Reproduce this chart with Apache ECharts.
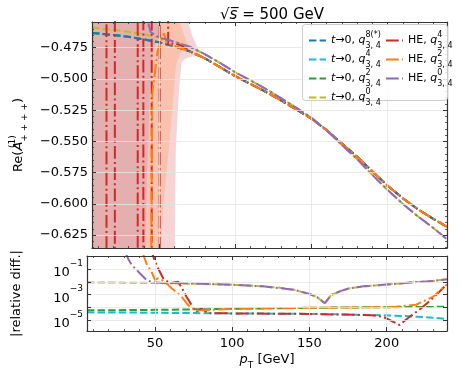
<!DOCTYPE html>
<html>
<head>
<meta charset="utf-8">
<script src="https://cdn.jsdelivr.net/npm/echarts@6/dist/echarts.min.js"></script>
<style>
  html, body { margin: 0; padding: 0; background: #fff; }
  #chart { width: 471px; height: 377px; }
</style>
</head>
<body>
<div id="chart"></div>
<script>
// ---- data ----
const ptGrid = [6, 10, 20, 30, 40, 50, 60, 70, 80, 90, 100, 110, 120, 130, 140, 150, 160, 170, 180, 190, 200, 210, 220, 230, 239];

// Re(A) for the t->0 expansions
const ampQ8 = [-0.4632, -0.4636, -0.4648, -0.4663, -0.4683, -0.4707, -0.4738, -0.4778, -0.4835, -0.4905, -0.4978, -0.5040, -0.5103, -0.5172, -0.5244, -0.5318, -0.5410, -0.5517, -0.5623, -0.5740, -0.5855, -0.5955, -0.6045, -0.6120, -0.6184];
const ampQ4 = [-0.4632, -0.4636, -0.4648, -0.4663, -0.4683, -0.4707, -0.4738, -0.4778, -0.4835, -0.4905, -0.4978, -0.5040, -0.5103, -0.5172, -0.5244, -0.5318, -0.5410, -0.5517, -0.5623, -0.5740, -0.5855, -0.5955, -0.6045, -0.6120, -0.6184];
const ampQ2 = [-0.4632, -0.4636, -0.4648, -0.4663, -0.4683, -0.4707, -0.4738, -0.4778, -0.4835, -0.4905, -0.4978, -0.5040, -0.5103, -0.5172, -0.5244, -0.5318, -0.5410, -0.5517, -0.5623, -0.5740, -0.5855, -0.5955, -0.6045, -0.6120, -0.6184];
const ampQ0 = [-0.4589, -0.4594, -0.4606, -0.4623, -0.4642, -0.4668, -0.4701, -0.4742, -0.4801, -0.4872, -0.4947, -0.5012, -0.5079, -0.5153, -0.5230, -0.5311, -0.5410, -0.5529, -0.5643, -0.5768, -0.5890, -0.6000, -0.6102, -0.6193, -0.6284];

// Re(A) for the high-energy expansions (blow up at small pT)
const heQ4X = [6, 15.5, 15.5, 21, 21, 36, 36, 39.7, 39.7, 45.2, 45.2, 50.4, 50.4, 55.5, 56, 60, 65, 70, 80, 90, 100, 110, 120, 130, 140, 150, 160, 170, 180, 190, 200, 210, 220, 230, 239];
const heQ4Amp = [0.5, 0.5, -1.5, -1.5, 0.5, 0.5, -1.5, -1.5, 0.5, 0.5, -1.5, -1.5, 0.5, 0.5, -0.4725, -0.4712, -0.4735, -0.4778, -0.4835, -0.4905, -0.4978, -0.5040, -0.5103, -0.5172, -0.5244, -0.5318, -0.5410, -0.5517, -0.5623, -0.5740, -0.5855, -0.5955, -0.6045, -0.6120, -0.6184];
const heQ2X = [40, 45.6, 49, 53.2, 55, 58, 62, 70, 80, 90, 100, 110, 120, 130, 140, 150, 160, 170, 180, 190, 200, 210, 220, 230, 239];
const heQ2Amp = [-1.5, -0.5115, -0.4780, -0.4635, -0.4715, -0.4725, -0.4745, -0.4778, -0.4835, -0.4905, -0.4978, -0.5040, -0.5103, -0.5172, -0.5244, -0.5318, -0.5410, -0.5517, -0.5623, -0.5740, -0.5855, -0.5955, -0.6045, -0.6120, -0.6184];
const heQ0X = [30, 35, 39, 44.5, 50, 60, 70, 80, 90, 100, 110, 120, 130, 140, 150, 160, 170, 180, 190, 200, 210, 220, 230, 239];
const heQ0Amp = [-0.10, -0.365, -0.4376, -0.4625, -0.4668, -0.4701, -0.4742, -0.4801, -0.4872, -0.4947, -0.5012, -0.5079, -0.5153, -0.5230, -0.5311, -0.5410, -0.5529, -0.5643, -0.5768, -0.5890, -0.6000, -0.6102, -0.6193, -0.6284];

// uncertainty bands of the HE expansions (x, lower, upper)
const bandQ4X = [6, 59.5, 60.3, 61, 63, 64.8, 67, 69, 72, 75, 78];
const bandQ4Lo = [-1.5, -1.5, -0.64, -0.557, -0.51, -0.487, -0.484, -0.483, -0.482, -0.4815, -0.4825];
const bandQ4Hi = [0.5, 0.5, 0.5, 0.5, 0.5, 0.5, 0.5, -0.454, -0.466, -0.474, -0.4825];
const bandQ2X = [6, 50, 51, 53, 56.4, 59, 61, 63, 63.5, 65, 68, 70, 72];
const bandQ2Lo = [-1.5, -1.5, -0.64, -0.60, -0.557, -0.52, -0.49, -0.482, -0.480, -0.478, -0.4775, -0.4778, -0.4790];
const bandQ2Hi = [0.5, 0.5, 0.5, 0.5, 0.5, 0.5, 0.5, 0.5, -0.454, -0.460, -0.470, -0.4755, -0.4790];
const bandQ0X = [6, 40, 41, 42, 44, 45.5, 47, 48, 50, 52];
const bandQ0Lo = [-1.5, -1.5, -0.64, -0.58, -0.51, -0.485, -0.474, -0.4705, -0.4675, -0.4672];
const bandQ0Hi = [0.5, 0.5, 0.5, 0.5, 0.5, 0.5, 0.3, -0.45, -0.463, -0.4672];

// |relative difference| w.r.t. the q^8 expansion
const relQ4 = [4.0e-5, 3.98e-5, 3.95e-5, 3.9e-5, 3.8e-5, 3.7e-5, 3.6e-5, 3.5e-5, 3.45e-5, 3.4e-5, 3.3e-5, 3.25e-5, 3.2e-5, 3.1e-5, 3.05e-5, 3.0e-5, 2.9e-5, 2.75e-5, 2.6e-5, 2.45e-5, 2.3e-5, 2.1e-5, 1.8e-5, 1.5e-5, 1.2e-5];
const relQ2 = [5.8e-5, 5.85e-5, 5.9e-5, 6.0e-5, 6.1e-5, 6.3e-5, 6.5e-5, 6.8e-5, 7.0e-5, 7.3e-5, 7.6e-5, 7.9e-5, 8.2e-5, 8.5e-5, 8.8e-5, 9.1e-5, 9.4e-5, 9.6e-5, 9.8e-5, 1.0e-4, 1.02e-4, 1.04e-4, 1.06e-4, 1.08e-4, 1.1e-4];
const relQ0X = [6, 20, 40, 60, 80, 100, 110, 120, 130, 140, 150, 155, 160, 164, 170, 176, 185, 200, 215, 230, 239];
const relQ0 = [9.3e-3, 9.1e-3, 8.7e-3, 7.9e-3, 7.1e-3, 6.0e-3, 5.2e-3, 4.5e-3, 3.6e-3, 2.4e-3, 1.12e-3, 6.3e-4, 2.1e-4, 9.3e-4, 1.9e-3, 3.2e-3, 4.5e-3, 6.3e-3, 8.9e-3, 1.2e-2, 1.62e-2];
const relHeQ4X = [47, 48.9, 52, 55.3, 59.6, 65, 67.5, 70.4, 73.7, 76.9, 80.1, 84, 100, 150, 190, 197.6, 208.3, 214.8, 221, 229.7, 238.5];
const relHeQ4 = [5, 1.0, 0.12, 1.95e-2, 7.9e-3, 1.05e-2, 3.2e-3, 6.9e-4, 1.5e-4, 4.5e-5, 8.3e-5, 3.5e-5, 3.3e-5, 3.0e-5, 2.4e-5, 1.8e-5, 4.0e-6, 1.8e-5, 6.3e-5, 5.1e-4, 5.8e-3];
const relHeQ2X = [42, 45, 47.8, 50, 52, 56.4, 60.8, 67.2, 71.5, 73.7, 76, 80, 100, 150, 200, 206, 219, 230, 239];
const relHeQ2 = [2, 0.2, 6.5e-2, 1.45e-2, 1.95e-2, 1.05e-2, 3.2e-3, 6.9e-4, 1.5e-4, 8.3e-5, 5.6e-5, 5.8e-5, 7.6e-5, 9.1e-5, 1.02e-4, 1.1e-4, 1.6e-4, 6.9e-4, 6.6e-3];
const relHeQ0X = [31, 32.7, 35, 39.2, 44.5, 47.7, 55, 60, 65, 80, 100, 120, 140, 150, 155, 160, 164, 170, 176, 185, 200, 215, 230, 239];
const relHeQ0 = [2, 0.65, 0.22, 6.5e-2, 1.45e-2, 1.0e-2, 8.2e-3, 8.0e-3, 8.6e-3, 7.1e-3, 6.0e-3, 4.5e-3, 2.4e-3, 1.12e-3, 6.3e-4, 2.1e-4, 9.3e-4, 1.9e-3, 3.2e-3, 4.5e-3, 6.3e-3, 8.9e-3, 1.2e-2, 1.62e-2];

const topTicks = [-0.625, -0.6, -0.575, -0.55, -0.525, -0.5, -0.475];
const relTicks = [1e-6, 1e-5, 1e-4, 1e-3, 1e-2, 1e-1, 1];
const relLabels = [1e-5, 1e-3, 1e-1];

// ---- style ----
const C = {
  blue: "#1f77b4", orange: "#ff7f0e", green: "#2ca02c", red: "#d62728",
  purple: "#9467bd", olive: "#bcbd22", cyan: "#17becf",
};
const dashed = [7.4, 3.2];
const dashDot = [12.8, 3.2, 2, 3.2];
const font = "DejaVu Sans";
const frame = "#333";
const gridLine = { show: true, lineStyle: { color: "#e4e4e4", width: 0.8 } };

const xMin = 6, xMax = 239;
const yMin = -0.6354, yMax = -0.4544;
const rMin = Math.pow(10, -5.87), rMax = Math.pow(10, 0.05);

const pairs = (xs, ys) => xs.map((x, i) => [x, ys[i]]);

const mathRich = (size) => ({
  n: { fontFamily: font, fontSize: size, color: "#000", lineHeight: size + 8, verticalAlign: "middle" },
  it: { fontFamily: font, fontSize: size, fontStyle: "italic", color: "#000", lineHeight: size + 8, verticalAlign: "middle" },
  sup: { fontFamily: font, fontSize: Math.round(size * 0.7), color: "#000", lineHeight: size + 8, verticalAlign: "top", width: 0.01 },
  sub: { fontFamily: font, fontSize: Math.round(size * 0.7), color: "#000", lineHeight: size + 8, verticalAlign: "bottom" },
});

const legendNames = {
  t8: "{it|t}{n|→0, }{it|q}{sup|8(*)}{sub|3, 4}",
  t4: "{it|t}{n|→0, }{it|q}{sup|4}{sub|3, 4}",
  t2: "{it|t}{n|→0, }{it|q}{sup|2}{sub|3, 4}",
  t0: "{it|t}{n|→0, }{it|q}{sup|0}{sub|3, 4}",
  h4: "{n|HE, }{it|q}{sup|4}{sub|3, 4}",
  h2: "{n|HE, }{it|q}{sup|2}{sub|3, 4}",
  h0: "{n|HE, }{it|q}{sup|0}{sub|3, 4}",
};

const lineSeries = (name, data, color, dash, xi, yi) => ({
  name, type: "line", data, xAxisIndex: xi, yAxisIndex: yi,
  showSymbol: false, symbol: "none", clip: true, z: 2,
  lineStyle: { color, width: 2, type: dash },
  itemStyle: { color },
  emphasis: { disabled: true }, silent: true, animation: false,
});

const bandSeries = (xs, lo, hi, color) => ({
  type: "custom", xAxisIndex: 0, yAxisIndex: 0, clip: true, z: 1, silent: true,
  data: [0],
  renderItem: (params, api) => {
    const pts = [];
    xs.forEach((x, i) => pts.push(api.coord([x, hi[i]])));
    for (let i = xs.length - 1; i >= 0; i--) pts.push(api.coord([xs[i], lo[i]]));
    return { type: "polygon", shape: { points: pts }, style: { fill: color, stroke: null } };
  },
});

const relFmt = (v) => {
  const e = Math.round(Math.log10(v));
  return "{b|10}{s|" + (e < 0 ? "−" + (-e) : e) + "}";
};

const legendBase = {
  orient: "vertical", top: 26, itemWidth: 17, itemHeight: 4, itemGap: 0, z: 20,
  selectedMode: false,
  itemStyle: { color: "rgba(0,0,0,0)", borderColor: "rgba(0,0,0,0)", borderWidth: 0 },
  formatter: (n) => legendNames[n], textStyle: { rich: mathRich(11) },
};

const option = {
  animation: false,
  backgroundColor: "#fff",
  title: {
    text: "{r|√}{s|s̅}{n| = 500 GeV}",
    left: 267, top: 3, textAlign: "center",
    textStyle: {
      fontWeight: "normal",
      rich: {
        r: { fontFamily: font, fontSize: 15, fontWeight: "normal", color: "#000" },
        s: { fontFamily: font, fontSize: 15, fontWeight: "normal", fontStyle: "italic", color: "#000" },
        n: { fontFamily: font, fontSize: 15, fontWeight: "normal", color: "#000" },
      },
    },
  },
  grid: [
    { left: 87, top: 22, width: 360, height: 226 },
    { left: 87, top: 256, width: 360, height: 75 },
  ],
  xAxis: [0, 1].flatMap((g) => ["bottom", "top"].map((pos) => ({
    gridIndex: g, type: "value", position: pos, min: xMin, max: xMax, splitNumber: 5, z: 3,
    axisLine: { show: true, onZero: false, lineStyle: { color: frame, width: 1.2 } },
    axisTick: { show: true, inside: true, length: 4, lineStyle: { color: frame, width: 1 } },
    minorTick: { show: true, splitNumber: 5, length: 2, lineStyle: { color: frame, width: 0.8 } },
    splitLine: pos === "bottom" ? gridLine : { show: false },
    axisLabel: (g === 1 && pos === "bottom")
      ? { show: true, showMinLabel: false, showMaxLabel: false, margin: 6, fontFamily: font, fontSize: 13, color: "#000" }
      : { show: false },
    name: (g === 1 && pos === "bottom") ? "{it|p}{sub|T}{n| [GeV]}" : "",
    nameLocation: "middle", nameGap: 18,
    nameTextStyle: { rich: mathRich(13) },
  }))),
  yAxis: [
    {
      gridIndex: 0, type: "value", position: "left", min: yMin, max: yMax, z: 3,
      axisLine: { show: true, onZero: false, lineStyle: { color: frame, width: 1.2 } },
      axisTick: { show: true, inside: true, length: 4, customValues: topTicks, lineStyle: { color: frame } },
      axisLabel: { customValues: topTicks, margin: 4, fontFamily: font, fontSize: 13, color: "#000",
        formatter: (v) => v.toFixed(3).replace("-", "−") },
      splitLine: gridLine,
      name: "{n|Re(}{it|A}{sup|(1)}{sub|+ + + +}{n|)}",
      nameLocation: "middle", nameRotate: 90, nameGap: 62,
      nameTextStyle: { rich: mathRich(13) },
    },
    {
      gridIndex: 0, type: "value", position: "left", min: yMin, max: yMax, splitNumber: 36, z: 3,
      axisLine: { show: false }, axisLabel: { show: false }, splitLine: { show: false },
      axisTick: { show: true, inside: true, length: 2, lineStyle: { color: frame, width: 0.8 } },
    },
    {
      gridIndex: 0, type: "value", position: "right", min: yMin, max: yMax, z: 3,
      axisLine: { show: true, onZero: false, lineStyle: { color: frame, width: 1.2 } },
      axisTick: { show: true, inside: true, length: 4, customValues: topTicks, lineStyle: { color: frame } },
      axisLabel: { show: false }, splitLine: { show: false },
    },
    {
      gridIndex: 0, type: "value", position: "right", min: yMin, max: yMax, splitNumber: 36, z: 3,
      axisLine: { show: false }, axisLabel: { show: false }, splitLine: { show: false },
      axisTick: { show: true, inside: true, length: 2, lineStyle: { color: frame, width: 0.8 } },
    },
    {
      gridIndex: 1, type: "log", logBase: 10, position: "left", min: rMin, max: rMax, z: 3,
      axisLine: { show: true, onZero: false, lineStyle: { color: frame, width: 1.2 } },
      axisTick: { show: true, inside: true, length: 4, customValues: relTicks, lineStyle: { color: frame } },
      axisLabel: {
        customValues: relLabels, margin: 4, formatter: relFmt,
        rich: {
          b: { fontFamily: font, fontSize: 13, color: "#000", lineHeight: 20, verticalAlign: "bottom" },
          s: { fontFamily: font, fontSize: 9, color: "#000", lineHeight: 20, verticalAlign: "top" },
        },
      },
      splitLine: gridLine,
      name: "|relative diff.|",
      nameLocation: "middle", nameRotate: 90, nameGap: 64,
      nameTextStyle: { fontFamily: font, fontSize: 13, color: "#000" },
    },
    {
      gridIndex: 1, type: "log", logBase: 10, position: "right", min: rMin, max: rMax, z: 3,
      axisLine: { show: true, onZero: false, lineStyle: { color: frame, width: 1.2 } },
      axisTick: { show: true, inside: true, length: 4, customValues: relTicks, lineStyle: { color: frame } },
      axisLabel: { show: false }, splitLine: { show: false },
    },
  ],
  legend: [
    Object.assign({}, legendBase, { data: ["t8", "t4", "t2", "t0"], left: 303 }),
    Object.assign({}, legendBase, { data: ["h4", "h2", "h0"], left: 380 }),
  ],
  graphic: [{
    type: "rect", z: 15, left: 302, top: 24,
    shape: { width: 145, height: 76, r: 3 },
    style: { fill: "rgba(255,255,255,0.85)", stroke: "#cccccc", lineWidth: 1 },
  }],
  series: [
    bandSeries(bandQ4X, bandQ4Lo, bandQ4Hi, "rgba(214,39,40,0.2)"),
    bandSeries(bandQ2X, bandQ2Lo, bandQ2Hi, "rgba(255,127,14,0.2)"),
    bandSeries(bandQ0X, bandQ0Lo, bandQ0Hi, "rgba(148,103,189,0.2)"),
    lineSeries("t4", pairs(ptGrid, ampQ4), C.cyan, dashed, 0, 0),
    lineSeries("t2", pairs(ptGrid, ampQ2), C.green, dashed, 0, 0),
    lineSeries("t8", pairs(ptGrid, ampQ8), C.blue, dashed, 0, 0),
    lineSeries("t0", pairs(ptGrid, ampQ0), C.olive, dashed, 0, 0),
    lineSeries("h4", pairs(heQ4X, heQ4Amp), C.red, dashDot, 0, 0),
    lineSeries("h2", pairs(heQ2X, heQ2Amp), C.orange, dashDot, 0, 0),
    lineSeries("h0", pairs(heQ0X, heQ0Amp), C.purple, dashDot, 0, 0),
    lineSeries("t4", pairs(ptGrid, relQ4), C.cyan, dashed, 2, 4),
    lineSeries("t2", pairs(ptGrid, relQ2), C.green, dashed, 2, 4),
    lineSeries("t0", pairs(relQ0X, relQ0), C.olive, dashed, 2, 4),
    lineSeries("h4", pairs(relHeQ4X, relHeQ4), C.red, dashDot, 2, 4),
    lineSeries("h2", pairs(relHeQ2X, relHeQ2), C.orange, dashDot, 2, 4),
    lineSeries("h0", pairs(relHeQ0X, relHeQ0), C.purple, dashDot, 2, 4),
  ],
};

const chart = echarts.init(document.getElementById("chart"));
chart.setOption(option);
</script>
</body>
</html>
